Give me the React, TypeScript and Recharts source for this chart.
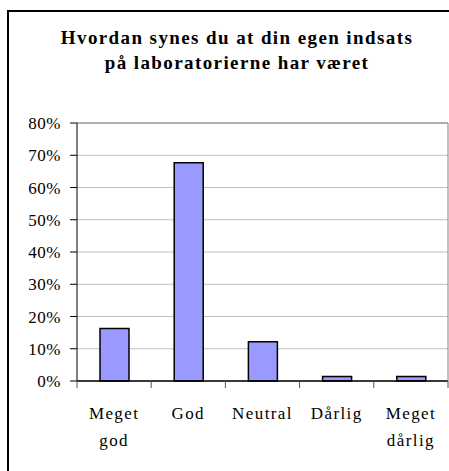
import { BarChart, Bar, XAxis, YAxis, CartesianGrid, ReferenceLine } from 'recharts';

const categories = ['Meget god', 'God', 'Neutral', 'Dårlig', 'Meget dårlig'];
const shares = [0.163, 0.677, 0.122, 0.014, 0.014];
const yTicks = [0, 0.1, 0.2, 0.3, 0.4, 0.5, 0.6, 0.7, 0.8];
// band edges (whole numbers) get tick marks, band middles (halves) get the labels
const xTicks = [0, 0.5, 1, 1.5, 2, 2.5, 3, 3.5, 4, 4.5, 5];

const FONT = '"Liberation Serif", serif';

const data = categories.map((name, i) => ({ name, pos: i + 0.5, value: shares[i] }));

function XTick(props: any) {
  const { x, y, payload } = props;
  const v = payload.value as number;
  if (Number.isInteger(v)) {
    return <line x1={x} x2={x} y1={y} y2={y + 7} stroke="#555" />;
  }
  const words = categories[Math.floor(v)].split(' ');
  return (
    <text x={x} y={y} textAnchor="middle" fontFamily={FONT} fontSize={17} letterSpacing={1.4} fill="#000">
      {words.map((w, i) => (
        <tspan key={i} x={x} dy={i === 0 ? 38 : 27}>{w}</tspan>
      ))}
    </text>
  );
}

function YTick(props: any) {
  const { x, y, payload } = props;
  return (
    <text x={x} y={y} dy={6} textAnchor="end" fontFamily={FONT} fontSize={17} letterSpacing={0.5} fill="#000">
      {`${Math.round(payload.value * 100)}%`}
    </text>
  );
}

export default function App() {
  return (
    <div style={{ position: 'absolute', left: 0, top: 0, width: 449, height: 471, overflow: 'hidden', background: '#fff', fontFamily: FONT }}>
      <div style={{ position: 'absolute', left: 7, top: 10, width: 470, height: 490, borderLeft: '2px solid #000', borderTop: '2px solid #000' }} />
      <div style={{ position: 'absolute', left: 0, top: 25, width: 474, textAlign: 'center', fontWeight: 'bold', fontSize: 19, letterSpacing: 1.4, lineHeight: '25px', color: '#000' }}>
        Hvordan synes du at din egen indsats<br />på laboratorierne har været
      </div>
      <div style={{ position: 'absolute', left: 0, top: 0 }}>
        <BarChart width={460} height={471} data={data} margin={{ top: 123, right: 11, left: 0, bottom: 88 }}>
          <CartesianGrid vertical={false} stroke="#c0c0c0" />
          <XAxis
            type="number"
            dataKey="pos"
            domain={[0, 5]}
            ticks={xTicks}
            interval={0}
            height={2}
            tickSize={0}
            tickMargin={0}
            tickLine={false}
            axisLine={{ stroke: '#000' }}
            tick={<XTick />}
          />
          <YAxis
            domain={[0, 0.8]}
            ticks={yTicks}
            width={77}
            tickSize={7}
            tickMargin={9}
            axisLine={{ stroke: '#000' }}
            tickLine={{ stroke: '#000' }}
            tick={<YTick />}
          />
          <YAxis yAxisId="right" orientation="right" width={1} tick={false} tickLine={false} axisLine={{ stroke: '#808080' }} />
          <ReferenceLine y={0.8} stroke="#808080" />
          <ReferenceLine y={0} stroke="#000" />
          <Bar
            dataKey="value"
            barSize={29}
            fill="#9999ff"
            stroke="#000"
            strokeWidth={1.5}
            isAnimationActive={false}
          />
        </BarChart>
      </div>
    </div>
  );
}
